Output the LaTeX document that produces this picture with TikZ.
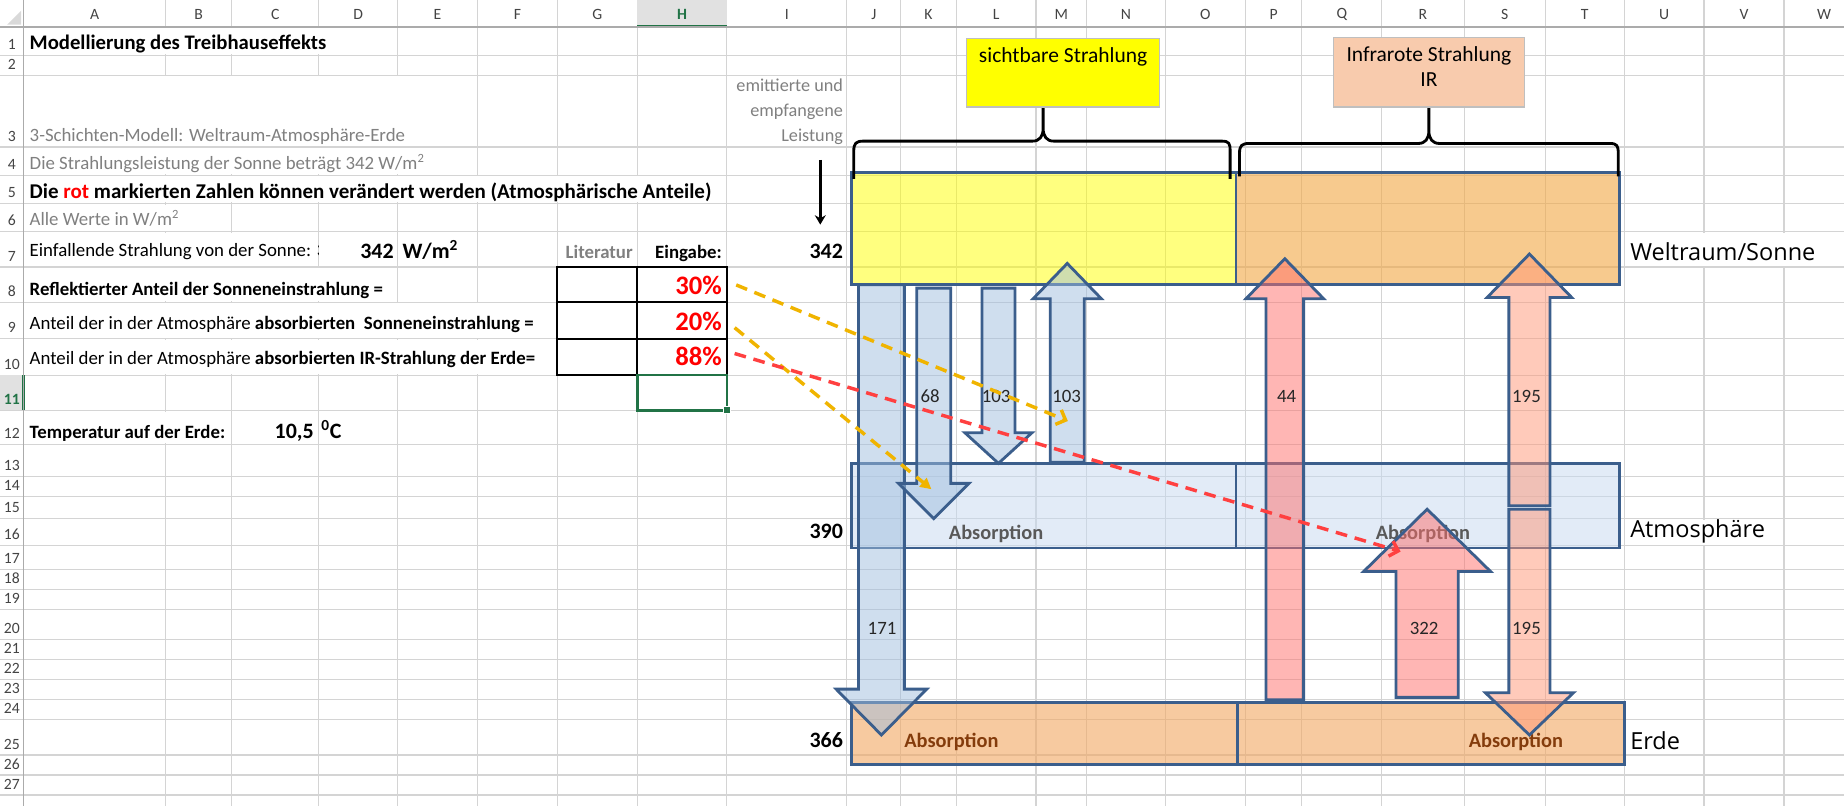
\documentclass[tikz,border=0pt]{standalone}
\usepackage{fontspec}
\setmainfont{Carlito}
\newfontfamily\schichtfont{Open Sans}
\usepackage{tikz}
\usetikzlibrary{arrows.meta}
\usepackage{xcolor}
\definecolor{gitterfarbe}{HTML}{D4D4D4}
\definecolor{kopfgrau}{HTML}{444444}
\definecolor{kopflinie}{HTML}{ABABAB}
\definecolor{selgruen}{HTML}{217346}
\definecolor{selgrau}{HTML}{E1E1E1}
\definecolor{textgrau}{HTML}{808080}
\definecolor{rahmenblau}{RGB}{59,94,140}
\definecolor{sonnegelb}{RGB}{255,255,0}
\definecolor{sonneorange}{RGB}{243,168,67}
\definecolor{atmblau}{RGB}{198,216,240}
\definecolor{erdorange}{RGB}{243,168,97}
\definecolor{pfeilblau}{RGB}{160,190,222}
\definecolor{pfeilrosa}{RGB}{255,111,107}
\definecolor{pfeillachs}{RGB}{255,151,119}
\definecolor{irkasten}{HTML}{F8CBAD}
\definecolor{strichgold}{RGB}{240,180,0}
\definecolor{strichrot}{RGB}{255,64,64}
\definecolor{absgrau}{HTML}{595959}
\definecolor{absbraun}{HTML}{843C0C}

\begin{document}
\begin{tikzpicture}[x=0.75pt,y=-0.75pt,
  every node/.style={inner sep=0pt},
  gitter/.style={draw=gitterfarbe,line width=0.75pt},
  kopf/.style={font=\fontsize{10}{12}\selectfont,text=kopfgrau},
  txt/.style={anchor=base west,font=\fontsize{12}{14}\selectfont},
  txtb/.style={anchor=base west,font=\fontsize{12}{14}\selectfont\bfseries},
  txtg/.style={txt,text=textgrau},
  gross/.style={anchor=base east,font=\fontsize{14}{16}\selectfont\bfseries},
  prozent/.style={anchor=base east,font=\fontsize{17}{20}\selectfont\bfseries,text=red},
  schicht/.style={draw=rahmenblau,line width=1.8pt},
  block/.style={draw=rahmenblau,line width=1.8pt,fill opacity=0.5},
  zahl/.style={font=\fontsize{12}{14}\selectfont,text=black!85},
  absorp/.style={anchor=base,font=\fontsize{13}{15}\selectfont\bfseries},
  klammer/.style={line width=1.8pt,line join=round},
  strich/.style={line width=2.2pt,dash pattern=on 7.5pt off 5pt},
  ebene/.style={anchor=west,font=\schichtfont\fontsize{15}{18}\selectfont}]
  \fill[white] (0,0) rectangle (1568,685);
  \useasboundingbox (0,0) rectangle (1568,685);

  % (I) Tabellengitter
  \foreach \y in {23,47,64,125,149,173,197,227,257,288,319,349,378,405,422,441,464,484,501,518,544,561,578,595,612,642,659,676}
    \draw[gitter] (0,\y) -- (1568,\y);
  \foreach \x in {141,197,271,338,406,474,542,618,720,766,813,881,924,991,1059,1107,1175,1245,1314,1381,1449,1517}
    \draw[gitter] (\x,0) -- (\x,685);
  % Text laeuft ueber die Zellgrenzen
  \foreach \x/\ya/\yb in {141/23/47,197/23/47,271/23/47,
      141/64/125,197/64/125,271/64/125,338/64/125,
      141/125/149,197/125/149,271/125/149,338/125/149,
      141/149/173,197/149/173,271/149/173,338/149/173,406/149/173,474/149/173,542/149/173,
      141/173/197,141/197/227,197/197/227,1449/197/227,1517/197/227,
      141/227/257,197/227/257,271/227/257,
      141/257/288,197/257/288,271/257/288,338/257/288,406/257/288,
      141/288/319,197/288/319,271/288/319,338/288/319,406/288/319,
      141/349/378,1449/441/464}
    \draw[white,line width=1.5pt] (\x,\ya+1) -- (\x,\yb-1);

  % (II) Spalten- und Zeilenkoepfe
  \fill[selgrau] (542,0) rectangle (618,23);
  \fill[selgruen] (542,21) rectangle (618,24);
  \fill[selgrau] (0,319) rectangle (20,349);
  \fill[selgruen] (18.5,319) rectangle (21,349);
  \draw[kopflinie,line width=0.75pt] (0,23) -- (1568,23);
  \draw[kopflinie,line width=0.75pt] (20,0) -- (20,685);
  \fill[black!15] (18,9) -- (18,21) -- (6,21) -- cycle;
  \foreach \c/\x in {A/80.5,B/169,C/234,D/304.5,E/372,F/440,G/508,I/669,J/743,K/789.5,L/847,M/902.5,N/957.5,O/1025,P/1083,Q/1141,R/1210,S/1279.5,T/1347.5,U/1415,V/1483,W/1551}
    \node[kopf] (spalte\c) at (\x,12) {\c};
  \node[kopf,text=selgruen,font=\fontsize{10}{12}\selectfont\bfseries] (spalteH) at (580,12) {H};
  \foreach \r/\yb in {1/47,2/64,3/125,4/149,5/173,6/197,7/227,8/257,9/288,10/319,12/378,13/405,14/422,15/441,16/464,17/484,18/501,19/518,20/544,21/561,22/578,23/595,24/612,25/642,26/659,27/676}
    \node[kopf,anchor=base] (zeile\r) at (10,\yb-5) {\r};
  \node[kopf,anchor=base,text=selgruen,font=\fontsize{10}{12}\selectfont\bfseries] (zeile11) at (10,344) {11};

  % (III) Texte links
  \node[txtb,font=\fontsize{13.2}{15}\selectfont\bfseries] (titel) at (25,42) {Modellierung des Treibhauseffekts};
  \node[txtg] (modell) at (25,120.5) {3-Schichten-Modell: Weltraum-Atmosphäre-Erde};
  \node[txtg] (leistungtxt) at (25,144) {Die Strahlungsleistung der Sonne beträgt 342 W/m\textsuperscript{2}};
  \node[txtb,font=\fontsize{13.4}{15}\selectfont\bfseries] (hinweis) at (25,168.6) {Die \textcolor{red}{rot} markierten Zahlen können verändert werden (Atmosphärische Anteile)};
  \node[txtg] (einheit) at (25,192) {Alle Werte in W/m\textsuperscript{2}};
  \begin{scope}
    \clip (20,197) rectangle (271,227);
    \node[txt] (einfall) at (25,218) {Einfallende Strahlung von der Sonne: 342};
  \end{scope}
  \node[gross] (sonnewert) at (335,219.7) {342};
  \node[gross,anchor=base west] (sonneeinh) at (342,219.7) {W/m\textsuperscript{2}};
  \node[txtb,anchor=base,text=textgrau] (literatur) at (509.5,219.7) {Literatur};
  \node[txtb,anchor=base east] (eingabe) at (614,219.7) {Eingabe:};
  \node[txtb] (refltxt) at (25,251) {Reflektierter Anteil der Sonneneinstrahlung =};
  \node[txt] (abstxt) at (25,280) {Anteil der in der Atmosphäre \textbf{absorbierten\ \ Sonneneinstrahlung =}};
  \node[txt] (irtxt) at (25,310) {Anteil der in der Atmosphäre \textbf{absorbierten IR-Strahlung der Erde=}};
  \node[prozent] (refl) at (614,250) {30\%};
  \node[prozent] (abss) at (614,281) {20\%};
  \node[prozent] (absir) at (614,311) {88\%};
  \draw[line width=1.3pt] (474,227) rectangle (618,319);
  \draw[line width=1.3pt] (542,227) -- (542,319) (474,257) -- (618,257) (474,288) -- (618,288);
  \draw[selgruen,line width=1.5pt] (542,319) rectangle (618,349);
  \filldraw[fill=selgruen,draw=white,line width=0.6pt] (615,346) rectangle (621,352);
  \node[txtb] (temptxt) at (25,372.7) {Temperatur auf der Erde:};
  \node[gross] (temp) at (267,372.7) {10,5};
  \node[gross,anchor=base west] (grad) at (273,372.7) {\textsuperscript{0}C};

  % (IV) Spalte I
  \node[txtg,anchor=east,align=right,font=\fontsize{11.6}{15.75}\selectfont] (leistung) at (717,95) {emittierte und\\empfangene\\Leistung};
  \coordinate (einA) at (697.5,136);
  \coordinate (einB) at (697.5,191);
  \draw[-{Stealth[length=6pt,width=7pt]},line width=1.6pt] (einA) -- (einB);
  \node[gross] (w342) at (717,219.7) {342};
  \node[gross] (w390) at (717,457.8) {390};
  \node[gross] (w366) at (717,635.5) {366};

  % (V) drei Schichten
  \filldraw[schicht,fill=sonnegelb,fill opacity=0.5] (724,147) rectangle (1051,242);
  \filldraw[schicht,fill=sonneorange,fill opacity=0.6] (1051,147) rectangle (1377,242);
  \filldraw[schicht,fill=atmblau,fill opacity=0.5] (724,394) rectangle (1051,466);
  \filldraw[schicht,fill=atmblau,fill opacity=0.5] (1051,394) rectangle (1377,466);
  \filldraw[schicht,fill=erdorange,fill opacity=0.6] (724,597) rectangle (1052,650);
  \filldraw[schicht,fill=erdorange,fill opacity=0.6] (1052,597) rectangle (1381,650);
  \node[absorp,text=absgrau] (absatmA) at (847,458.6) {Absorption};
  \node[absorp,text=absgrau] (absatmB) at (1210,458.6) {Absorption};
  \node[absorp,text=absbraun] (abserdeA) at (809,635.5) {Absorption};
  \node[absorp,text=absbraun] (abserdeB) at (1289,635.5) {Absorption};

  % (VI) Strahlungspfeile
  \foreach \cx/\hs/\hh/\ya/\yb/\yc/\fc in {
      749.5/19.5/38.5/242/586/625/pfeilblau,
      794/14.5/30/245/411/441/pfeilblau,
      849/14/28.5/245/368/394/pfeilblau,
      907.5/14.5/29/393/254/224/pfeilblau,
      1092.5/16/33/595/254/220/pfeilrosa,
      1300.5/17.5/36/430/253/216/pfeillachs,
      1300.5/17.5/37.5/433/589/625/pfeillachs,
      1213.5/26.5/54/593/486/433/pfeilrosa}
    \filldraw[block,fill=\fc] ({\cx-\hs},\ya) -- ({\cx-\hs},\yb) -- ({\cx-\hh},\yb) -- (\cx,\yc)
      -- ({\cx+\hh},\yb) -- ({\cx+\hs},\yb) -- ({\cx+\hs},\ya) -- cycle;
  \node[zahl] (s68) at (791,337) {68};
  \node[zahl] (s103a) at (847,337) {103};
  \node[zahl] (s103b) at (907,337) {103};
  \node[zahl] (s44) at (1094,337) {44};
  \node[zahl] (s195a) at (1298,337) {195};
  \node[zahl] (s171) at (750,534) {171};
  \node[zahl] (s322) at (1211,534) {322};
  \node[zahl] (s195b) at (1298,534) {195};

  % (VII) Verweise von den Eingaben
  \coordinate (z30) at (908,358);
  \coordinate (z20) at (792,416);
  \coordinate (z88) at (1191,469);
  \draw[strich,strichgold,-{Straight Barb[length=5pt,width=10pt]}] ([xshift=9pt]refl.east) -- (z30);
  \draw[strich,strichgold,-{Triangle[length=7pt,width=7pt]}] ([xshift=8pt,yshift=-4pt]abss.east) -- (z20);
  \draw[strich,strichrot,-{Straight Barb[length=5pt,width=10pt]}] ([xshift=8pt,yshift=2pt]absir.east) -- (z88);

  % (VIII) Klammern und Beschriftung
  \draw[klammer] (726,152) -- (726,128) .. controls (726,122) and (728,120) .. (734,120) -- (878,120)
    .. controls (884,120) and (887,116) .. (887,109) -- (887,91) -- (887,109)
    .. controls (887,116) and (890,120) .. (896,120) -- (1039,120)
    .. controls (1045,120) and (1046,122) .. (1046,128) -- (1046,152);
  \draw[klammer] (1054,150) -- (1054,130) .. controls (1054,124) and (1056,122) .. (1062,122) -- (1206,122)
    .. controls (1212,122) and (1215,118) .. (1215,111) -- (1215,92) -- (1215,111)
    .. controls (1215,118) and (1218,122) .. (1224,122) -- (1369,122)
    .. controls (1375,122) and (1376,124) .. (1376,130) -- (1376,150);
  \filldraw[fill=sonnegelb,draw=black!25,line width=0.8pt] (822,33) rectangle (986,91);
  \node[anchor=base,font=\fontsize{13.7}{16}\selectfont] (sichtbar) at (904,53.3) {sichtbare Strahlung};
  \filldraw[fill=irkasten,draw=black!25,line width=0.8pt] (1134,32) rectangle (1296,91);
  \node[anchor=north,align=center,font=\fontsize{13.7}{16.5}\selectfont] (infrarot) at (1215,39) {Infrarote Strahlung\\IR};
  \node[ebene] (weltraum) at (1386,214) {Weltraum/Sonne};
  \node[ebene] (atmo) at (1386,452) {Atmosphäre};
  \node[ebene] (erde) at (1386,630) {Erde};
\end{tikzpicture}
\end{document}
